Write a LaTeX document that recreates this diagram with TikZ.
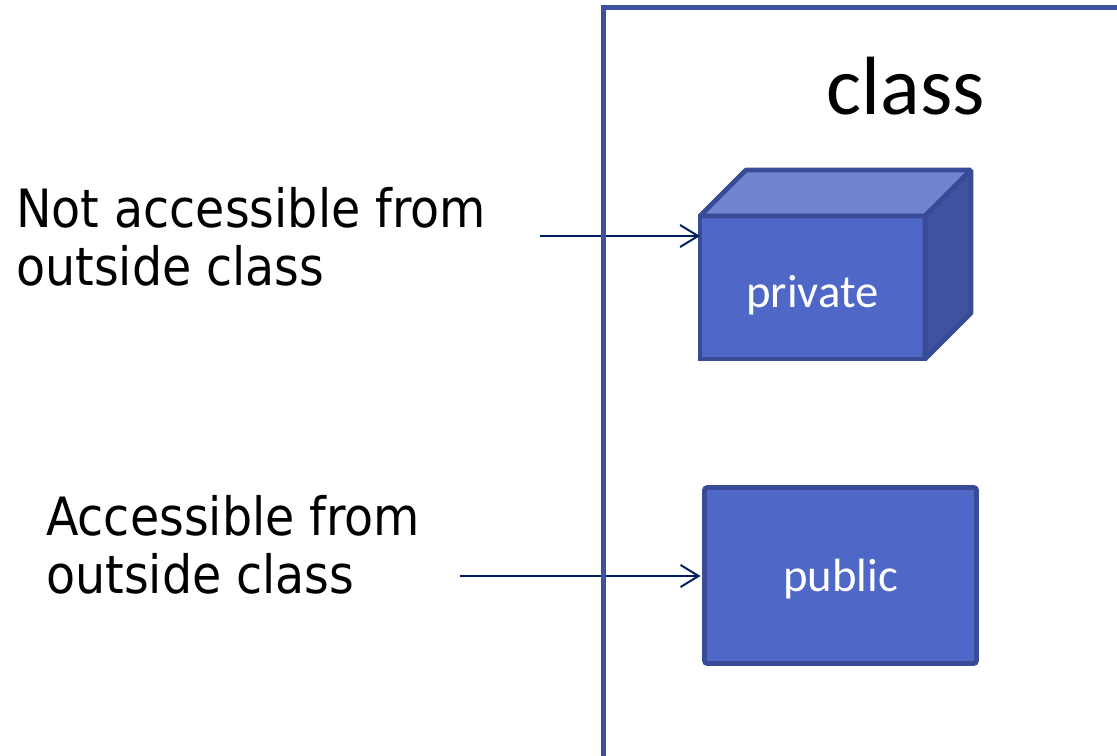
\documentclass[tikz,border=0pt]{standalone}
\usepackage{fontspec}
\setmainfont{Carlito}
\newfontfamily\notefont{DejaVu Sans Condensed}
\usetikzlibrary{arrows.meta}

% Couleurs
\definecolor{cadre}{RGB}{62,80,158}
\definecolor{face}{RGB}{79,104,199}
\definecolor{dessus}{RGB}{113,132,208}
\definecolor{cote}{RGB}{63,81,159}
\definecolor{arete}{RGB}{57,75,150}
\definecolor{marine}{RGB}{0,32,96}

\begin{document}
\begin{tikzpicture}[x=0.75pt, y=-0.75pt,
  >={Straight Barb[length=13.5pt, width=16.5pt]},
  membre/.style={draw=arete, line width=3.5pt, fill=face, text=white,
    font=\fontsize{35}{35}\selectfont, text height=24pt, text depth=0pt,
    inner sep=0pt, outer sep=0pt},
  remarque/.style={font=\notefont\fontsize{39.6}{43}\selectfont,
    align=left, inner sep=0pt},
  fleche/.style={->, draw=marine, line width=1.5pt}]

  \useasboundingbox (0,0) rectangle (1117,756);
  \clip (0,0) rectangle (1117,756);

  % ==========================================
  % TEXTES A GAUCHE + FLECHES
  % ==========================================
  \node[remarque, anchor=base west] (note prive) at (16,285) {Not accessible from\\outside class};
  \node[remarque, anchor=base west] (note public) at (46,593) {Accessible from\\outside class};

  \coordinate (depart prive) at (540,236);
  \coordinate (depart public) at (460,576);

  % ==========================================
  % LA CLASSE (cadre ouvert a droite et en bas)
  % ==========================================
  \node[font=\fontsize{62}{62}\selectfont, anchor=base] (titre) at (906,115) {class};

  % Membre prive : un cube
  \node[membre, minimum width=168.75pt, minimum height=107.25pt] (prive) at (812.5,287.5) {\raisebox{-3pt}{private}};
  \filldraw[draw=arete, fill=dessus, line width=3.5pt, line join=bevel]
    (prive.north west) -- ++(46,-46) -- ++(225,0) -- (prive.north east) -- cycle;
  \filldraw[draw=arete, fill=cote, line width=3.5pt, line join=bevel]
    (prive.north east) -- ++(46,-46) -- ++(0,143) -- (prive.south east) -- cycle;

  % Membre public : un simple rectangle
  \node[membre, rounded corners=2pt, minimum width=204pt, minimum height=132pt] (public) at (840.5,575.5) {public};

  % Fleches vers les membres
  \draw[fleche] (depart prive) -- (depart prive -| prive.west);
  \draw[fleche, shorten >=3pt] (depart public) -- (depart public -| public.west);

  % Cadre de la classe
  \draw[cadre, line width=3.4pt] (603.5,7.5) rectangle (1140,780);

\end{tikzpicture}
\end{document}
